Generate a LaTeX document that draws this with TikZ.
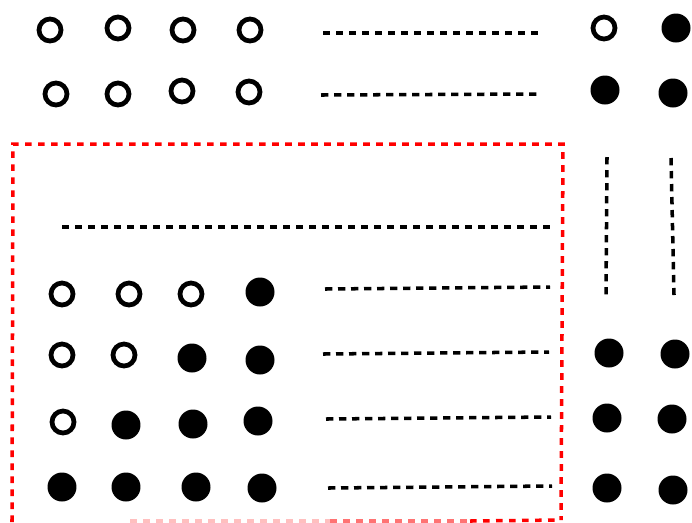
\documentclass[tikz,border=0pt]{standalone}
\usepackage{tikz}
\usetikzlibrary{positioning}
\definecolor{boxred}{RGB}{255,0,0}
\tikzset{
  opendot/.style={circle,draw=black,line width=2.7pt,fill=white,minimum size=0.44cm,inner sep=0pt},
  fulldot/.style={circle,fill=black,minimum size=0.58cm,inner sep=0pt},
  dotline/.style={line width=2pt,dash pattern=on 4.2pt off 3.2pt},
  boxline/.style={line width=2pt,boxred,dash pattern=on 3.8pt off 3.6pt},
}
\begin{document}
\begin{tikzpicture}[x=0.02cm,y=-0.02cm]
  \useasboundingbox (0,0) rectangle (692,522);
  % Top rows
  \node[opendot] (a1) at (50,30) {};  \node[opendot] (a2) at (118,28) {};
  \node[opendot] (a3) at (183,30) {}; \node[opendot] (a4) at (250,30) {};
  \node[opendot] (a5) at (604,28) {}; \node[fulldot] (a6) at (676,28) {};
  \node[opendot] (b1) at (56,94) {};  \node[opendot] (b2) at (118,94) {};
  \node[opendot] (b3) at (182,91) {}; \node[opendot] (b4) at (249,92) {};
  \node[fulldot] (b5) at (605,90) {}; \node[fulldot] (b6) at (673,93) {};
  \draw[dotline] (323,33) -- (540,33);
  \draw[dotline] (321,95) -- (538,94);
  % Vertical dots on the right
  \draw[dotline] (607,157) -- (606,295);
  \draw[dotline] (671,158) -- (674,295);
  % Red box
  \draw[boxline] (12,522) -- (13,144) -- (563,144) -- (561,520);
  \draw[boxline,boxred!25] (130,521) -- (330,521);
  \draw[boxline,boxred!55] (330,521) -- (470,521);
  \draw[boxline] (470,521) -- (561,520);
  \draw[dotline] (62,227) -- (552,227);
  % Rows inside the box
  \node[opendot] (c1) at (62,294) {};  \node[opendot] (c2) at (129,294) {};
  \node[opendot] (c3) at (191,294) {}; \node[fulldot] (c4) at (260,292) {};
  \node[opendot] (d1) at (62,355) {};  \node[opendot] (d2) at (124,355) {};
  \node[fulldot] (d3) at (192,358) {}; \node[fulldot] (d4) at (260,360) {};
  \node[opendot] (e1) at (63,422) {};  \node[fulldot] (e2) at (126,425) {};
  \node[fulldot] (e3) at (193,424) {}; \node[fulldot] (e4) at (258,421) {};
  \node[fulldot] (f1) at (62,487) {};  \node[fulldot] (f2) at (126,487) {};
  \node[fulldot] (f3) at (196,487) {}; \node[fulldot] (f4) at (262,488) {};
  \draw[dotline] (325,289) -- (550,287);
  \draw[dotline] (323,354) -- (549,352);
  \draw[dotline] (326,419) -- (551,417);
  \draw[dotline] (328,488) -- (552,486);
  % Right column
  \node[fulldot] (d5) at (609,353) {}; \node[fulldot] (d6) at (675,354) {};
  \node[fulldot] (e5) at (607,418) {}; \node[fulldot] (e6) at (672,419) {};
  \node[fulldot] (f5) at (607,488) {}; \node[fulldot] (f6) at (673,490) {};
\end{tikzpicture}
\end{document}
